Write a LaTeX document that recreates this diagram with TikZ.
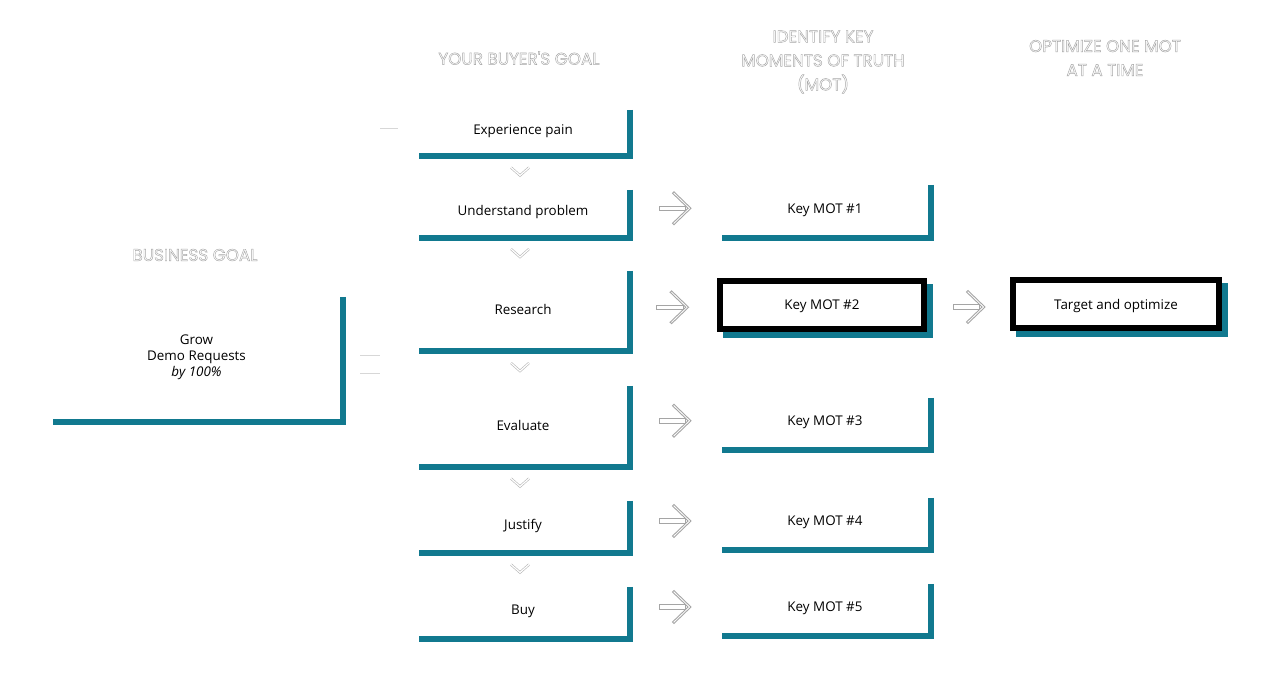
\documentclass[tikz,border=0pt]{standalone}
\usepackage{fontspec}
\setmainfont{Open Sans}
\newfontfamily\headfont{Poppins}
\usetikzlibrary{backgrounds,calc}

\definecolor{barteal}{RGB}{17,121,143}
\definecolor{ghost}{RGB}{165,165,165}
\definecolor{faint}{RGB}{215,215,215}
\newcommand{\hollow}[1]{\special{pdf:literal 1 Tr 0.45 w}#1\special{pdf:literal 0 Tr}}

\tikzset{
  goal/.style={inner sep=0pt, font=\fontsize{13.4}{16}\selectfont},
  keybox/.style={goal, draw=black, line width=6pt, fill=white, minimum height=48pt, text depth=0pt},
  tealbar/.style={draw=barteal, line width=6pt},
  head/.style={text=ghost, align=center, font=\headfont\fontsize{16.8}{24}\selectfont},
  dip/.pic={\draw[faint!85!black, line width=0.6pt, double=white, double distance=1.2pt] (-9,-4) -- (0,4) -- (9,-4);},
  fatarrow/.pic={
    \draw[ghost, line width=0.9pt, fill=white] (-15.5,-2.3) rectangle (11,2.3);
    \draw[ghost, line width=0.9pt, fill=white, line join=miter] (-2,-15) -- (-0.5,-16.4) -- (16.5,0) -- (-0.5,16.4) -- (-2,15) -- (13.6,0) -- cycle;}
}

\begin{document}
\begin{tikzpicture}[x=1pt, y=-1pt]
        \useasboundingbox (0,0) rectangle (1266,688);
        \node[head] (hbiz) at (195,255) {\hollow{BUSINESS GOAL}};
        \node[head] (hbuyer) at (519,58) {\hollow{YOUR BUYER'S GOAL}};
        \node[head] (hmot) at (823,62) {\hollow{IDENTIFY KEY\\MOMENTS OF TRUTH\\(MOT)}};
        \node[head] (hopt) at (1105,58) {\hollow{OPTIMIZE ONE MOT\\AT A TIME}};

        \node[align=center, inner sep=0pt, font=\fontsize{13.4}{16}\selectfont, minimum width=287pt, minimum height=120pt] (biz) at (196.5,357) {Grow\\Demo Requests\\\textit{by 100\%}};

        \node[goal, minimum width=208pt, minimum height=43pt] (exp) at (523,131.5) {Experience pain};
        \node[goal, minimum width=208pt, minimum height=45pt] (und) at (523,212.5) {Understand problem};
        \node[goal, minimum width=208pt, minimum height=77pt] (res) at (523,309.5) {Research};
        \node[goal, minimum width=208pt, minimum height=78pt] (eva) at (523,425) {Evaluate};
        \node[goal, minimum width=208pt, minimum height=49pt] (jus) at (523,525.5) {Justify};
        \node[goal, minimum width=208pt, minimum height=49pt] (buy) at (523,611.5) {Buy};

        \node[goal, minimum width=206pt, minimum height=50pt] (mot1) at (825,210) {Key MOT \#1};
        \node[keybox, minimum width=204pt] (mot2) at (822,305) {Key MOT \#2};
        \node[goal, minimum width=206pt, minimum height=49pt] (mot3) at (825,422.5) {Key MOT \#3};
        \node[goal, minimum width=206pt, minimum height=49pt] (mot4) at (825,522.5) {Key MOT \#4};
        \node[goal, minimum width=206pt, minimum height=49pt] (mot5) at (825,608.5) {Key MOT \#5};
        \node[keybox, minimum width=206pt] (tgt) at (1116,304) {Target and optimize};

        \begin{scope}[on background layer]
          \fill[white] (0,0) rectangle (1266,688);
          \foreach \n in {mot2,tgt}
            \fill[barteal] ([xshift=6pt,yshift=-6pt]\n.north west) rectangle ([xshift=6pt,yshift=-6pt]\n.south east);
        \end{scope}

        \draw[tealbar] ([xshift=3pt]biz.north east) |- ([yshift=-5pt]biz.south west);
        \foreach \n in {exp,und,res,eva,jus,buy,mot1,mot3,mot4,mot5}
          \draw[tealbar] ([xshift=3pt]\n.north east) |- ([yshift=-3pt]\n.south west);

        \foreach \a/\b in {exp/und,und/res,res/eva,eva/jus,jus/buy}
          \pic at ([xshift=-3pt]$(\a.south)!0.5!(\b.north)$) {dip};

        \foreach \a/\b in {und/mot1,eva/mot3,jus/mot4,buy/mot5}
          \pic at ([yshift=3pt]$(\a.east)!0.5!(\b.west)$) {fatarrow};
        \pic at ($(res.east)!0.5!(mot2.west)$) {fatarrow};
        \pic at ([yshift=-2.5pt]$(mot2.east)!0.5!(tgt.west)$) {fatarrow};

        \draw[faint, line width=1pt] (380,128) -- (398,128);
        \draw[faint, line width=1pt] (360,355) -- (380,355);
        \draw[faint, line width=1pt] (360,373) -- (380,373);
    \end{tikzpicture}
\end{document}
